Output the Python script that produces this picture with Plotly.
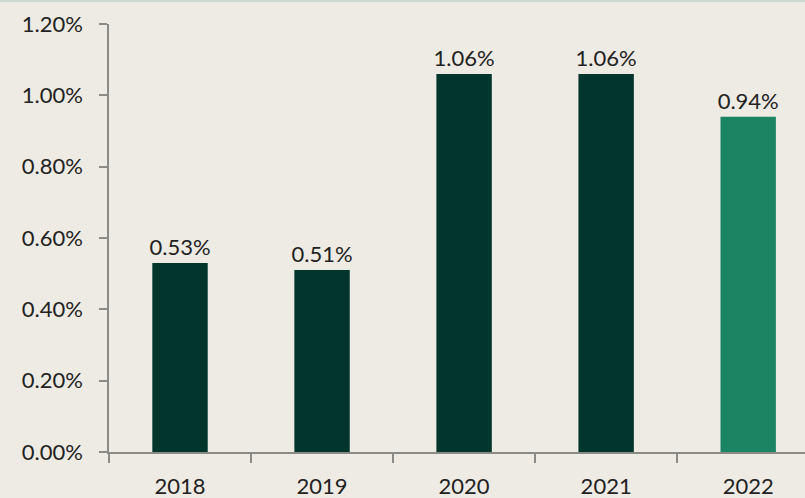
import plotly.graph_objects as go

years = ["2018", "2019", "2020", "2021", "2022"]
rates = [0.53, 0.51, 1.06, 1.06, 0.94]
bar_colors = ["#02352b", "#02352b", "#02352b", "#02352b", "#1b8462"]
y_ticks = [0.0, 0.2, 0.4, 0.6, 0.8, 1.0, 1.2]
y_tick_text = [f"{v:.2f}%" for v in y_ticks]

font_family = "Lato, Open Sans, sans-serif"
text_color = "#222222"
axis_grey = "#8a8a86"
font_size = 22

fig = go.Figure(
    go.Bar(
        x=years,
        y=rates,
        marker=dict(color=bar_colors, line=dict(width=0)),
        width=0.39,
        text=[f"{v:.2f}%" for v in rates],
        textposition="outside",
        constraintext="none",
        cliponaxis=False,
        textfont=dict(family=font_family, size=font_size, color=text_color),
    )
)

fig.update_layout(
    width=805,
    height=498,
    margin=dict(l=109, r=0, t=24, b=46),
    paper_bgcolor="#eeebe4",
    plot_bgcolor="#eeebe4",
    showlegend=False,
    font=dict(family=font_family, size=font_size, color=text_color),
)

# thin accent line along the top edge of the page
fig.add_shape(
    type="line", xref="paper", yref="paper",
    x0=-0.2, x1=1.01, y0=1.0 + 23 / 428, y1=1.0 + 23 / 428,
    line=dict(color="#c9d9d1", width=2),
)

fig.update_xaxes(
    type="category",
    range=[-0.5, 4.4],
    showline=True,
    linecolor=axis_grey,
    linewidth=1.5,
    ticks="outside",
    tickson="boundaries",
    ticklen=9,
    tickcolor=axis_grey,
    tickwidth=1.5,
    showgrid=False,
    tickfont=dict(family=font_family, size=font_size, color=text_color),
    ticklabelstandoff=14,
)

fig.update_yaxes(
    range=[0, 1.2],
    tickvals=y_ticks,
    ticktext=y_tick_text,
    showline=True,
    linecolor=axis_grey,
    linewidth=1.5,
    ticks="outside",
    ticklen=8,
    tickcolor=axis_grey,
    tickwidth=1.5,
    showgrid=False,
    zeroline=False,
    tickfont=dict(family=font_family, size=font_size, color=text_color),
    ticklabelstandoff=12,
)

fig.write_html("out.html")
